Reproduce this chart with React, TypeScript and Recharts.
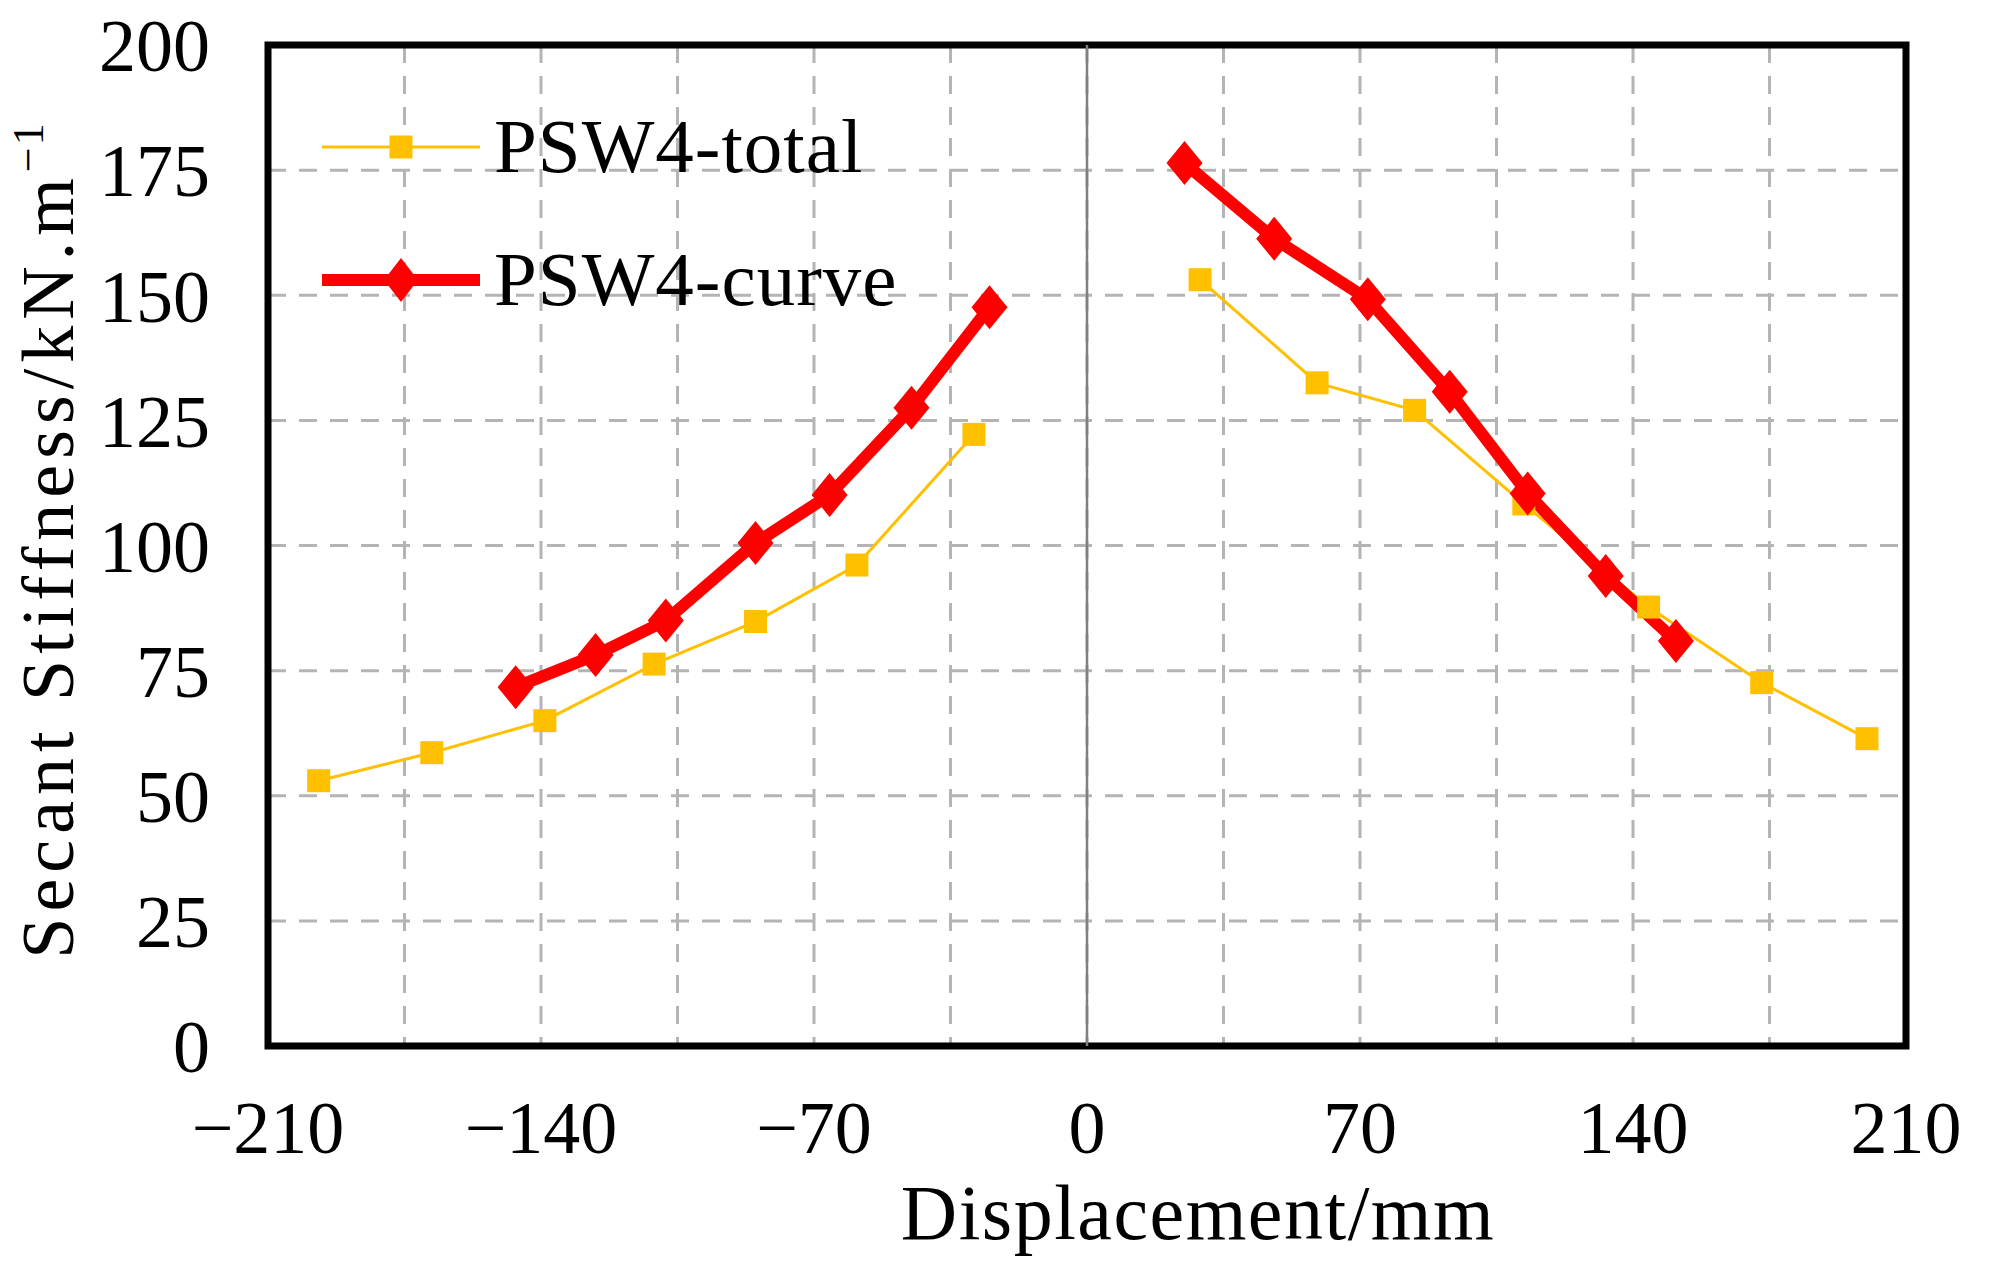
import React from 'react';
import {
  LineChart,
  Line,
  XAxis,
  YAxis,
  CartesianGrid,
  ReferenceLine,
  ReferenceArea,
  Legend,
  Label,
} from 'recharts';

// tick labels
const X_TICKS = [-210, -175, -140, -105, -70, -35, 0, 35, 70, 105, 140, 175, 210];
const Y_TICKS = [0, 25, 50, 75, 100, 125, 150, 175, 200];

// PSW4-total
const totalX = [-197, -168, -139, -111, -85, -59, -29, 29, 59, 84, 112, 144, 173, 200];
const totalY = [53.0, 58.6, 65.0, 76.3, 84.8, 96.1, 122.2, 153.1, 132.5, 127.0, 108.3, 87.7, 72.6, 61.4];

// PSW4-curve
const curveX = [-146.5, -126, -108, -85, -66, -45, -25, 25, 48, 72, 93, 113, 133, 151];
const curveY = [71.7, 78.1, 85.0, 100.5, 110.1, 127.5, 147.6, 176.4, 161.3, 149.2, 130.7, 110.4, 93.9, 80.9];

const SERIES_ORDER = ['PSW4-total', 'PSW4-curve'];

const YELLOW = '#FFC000';
const RED = '#FF0000';
const FONT = '"Liberation Serif", "Times New Roman", serif';

// rows for one series, with a null row where the sign of x flips so the two halves are not joined
function toRows(xs: number[], ys: number[]) {
  const rows: { x: number; y: number | null }[] = [];
  xs.forEach((x, i) => {
    if (i > 0 && Math.sign(xs[i - 1]) !== Math.sign(x)) rows.push({ x: 0, y: null });
    rows.push({ x, y: ys[i] });
  });
  return rows;
}

const totalRows = toRows(totalX, totalY);
const curveRows = toRows(curveX, curveY);

const fmtX = (v: number) => {
  if (v % 70 !== 0) return '';
  return v < 0 ? '\u2212' + Math.abs(v) : String(v);
};

function SquareDot(props: any) {
  const { cx, cy, index } = props;
  if (cx == null || cy == null || props.value == null) return <g key={`s-${index}`} />;
  return <rect key={`s-${index}`} x={cx - 11.5} y={cy - 11.5} width={23} height={23} fill={YELLOW} />;
}

function DiamondDot(props: any) {
  const { cx, cy, index } = props;
  if (cx == null || cy == null || props.value == null) return <g key={`d-${index}`} />;
  return (
    <polygon
      key={`d-${index}`}
      points={`${cx},${cy - 22} ${cx + 18},${cy} ${cx},${cy + 22} ${cx - 18},${cy}`}
      fill={RED}
    />
  );
}

function LegendBox({ payload }: any) {
  const items = [...(payload || [])].sort(
    (a: any, b: any) => SERIES_ORDER.indexOf(a.value) - SERIES_ORDER.indexOf(b.value)
  );
  return (
    <svg width={700} height={230} style={{ display: 'block', overflow: 'visible' }}>
      {items.map((p: any, i: number) => {
        const y = 40 + i * 133;
        const isCurve = p.color === RED;
        return (
          <g key={p.value}>
            <line x1={2} x2={160} y1={y} y2={y} stroke={p.color} strokeWidth={isCurve ? 12 : 3} />
            {isCurve ? (
              <polygon points={`81,${y - 22} 98,${y} 81,${y + 22} 64,${y}`} fill={RED} />
            ) : (
              <rect x={69.5} y={y - 11.5} width={23} height={23} fill={YELLOW} />
            )}
            <text x={174} y={y + 25} fontSize={77} letterSpacing={1} fontFamily={FONT} fill="#000">
              {p.value}
            </text>
          </g>
        );
      })}
    </svg>
  );
}

export default function App() {
  return (
    <div style={{ width: 1989, height: 1271, background: '#fff' }}>
      <style>{`body{margin:0;background:#fff}`}</style>
      <LineChart width={1989} height={1271} margin={{ top: 45, right: 83, bottom: 75, left: 68 }}>
        <CartesianGrid stroke="#B4B4B4" strokeWidth={3} strokeDasharray="18 13" />
        <XAxis
          type="number"
          dataKey="x"
          domain={[-210, 210]}
          ticks={X_TICKS}
          tickFormatter={fmtX}
          interval={0}
          allowDataOverflow
          height={150}
          axisLine={false}
          tickLine={false}
          tickSize={0}
          tickMargin={54}
          tick={{ fontSize: 74, fontFamily: FONT, fill: '#000' }}
        >
          <Label
            content={() => (
              <text
                x={1198}
                y={1239}
                textAnchor="middle"
                fontSize={78}
                letterSpacing={1.5}
                fontFamily={FONT}
                fill="#000"
              >
                Displacement/mm
              </text>
            )}
          />
        </XAxis>
        <YAxis
          type="number"
          domain={[0, 200]}
          ticks={Y_TICKS}
          interval={0}
          width={200}
          axisLine={false}
          tickLine={false}
          tickSize={0}
          tickMargin={58}
          tick={{ fontSize: 74, fontFamily: FONT, fill: '#000' }}
        >
          <Label
            content={() => (
              <text
                x={48}
                y={540}
                transform="rotate(-90 48 540)"
                textAnchor="middle"
                dominantBaseline="central"
                fontSize={74}
                fontFamily={FONT}
                letterSpacing={6}
                fill="#000"
              >
                Secant Stiffness/kN.m
                <tspan dy={-20} fontSize={44} letterSpacing={2}>
                  {'\u22121'}
                </tspan>
              </text>
            )}
          />
        </YAxis>
        <ReferenceLine x={0} stroke="#808080" strokeWidth={2.5} />
        <Line
          data={totalRows}
          dataKey="y"
          name="PSW4-total"
          stroke={YELLOW}
          strokeWidth={3}
          dot={SquareDot}
          activeDot={false}
          connectNulls={false}
          isAnimationActive={false}
        />
        <Line
          data={curveRows}
          dataKey="y"
          name="PSW4-curve"
          stroke={RED}
          strokeWidth={12}
          dot={DiamondDot}
          activeDot={false}
          connectNulls={false}
          isAnimationActive={false}
        />
        <ReferenceArea x1={-210} x2={210} y1={0} y2={200} fill="none" stroke="#000" strokeWidth={7} />
        <Legend
          layout="vertical"
          align="center"
          verticalAlign="middle"
          content={<LegendBox />}
          wrapperStyle={{ left: 320, top: 107, width: 700, height: 230 }}
        />
      </LineChart>
    </div>
  );
}
